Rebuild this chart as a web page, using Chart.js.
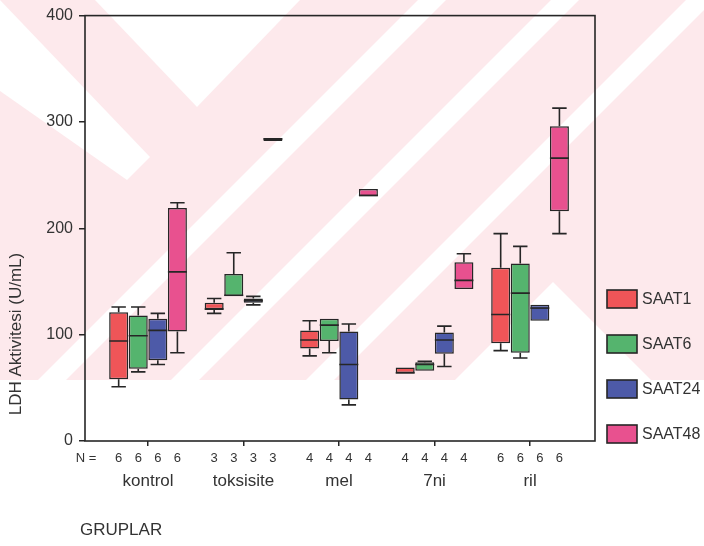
<!DOCTYPE html>
<html>
<head>
<meta charset="utf-8">
<script src="https://cdn.jsdelivr.net/npm/chart.js@4.4.0/dist/chart.umd.min.js"></script>
<style>
  html, body { margin: 0; padding: 0; background: #fff; }
  #wrap { position: relative; width: 704px; height: 546px; }
</style>
</head>
<body>
<div id="wrap"><canvas id="chart" width="704" height="546"></canvas></div>
<script>
'use strict';

const groups = ['kontrol', 'toksisite', 'mel', '7ni', 'ril'];
const seriesNames = ['SAAT1', 'SAAT6', 'SAAT24', 'SAAT48'];
const counts = [6, 3, 4, 4, 6];
const yTicks = [0, 100, 200, 300, 400];

// each box: [min, q1, median, q3, max]
const saat1 = [[51, 58, 94, 121, 126], [120, 124, 124, 130, 134], [80, 87, 95, 104, 113], [64, 64, 64, 69, 69], [85, 92, 119, 163, 195]];
const saat6 = [[65, 68, 99, 118, 126], [136, 136, 137, 157, 177], [83, 94, 109, 115, 115], [66, 66, 72, 74, 75], [78, 83, 139, 167, 183]];
const saat24 = [[72, 76, 104, 115, 120], [128, 130, 132, 134, 136], [34, 39, 72, 103, 110], [70, 82, 95, 102, 108], [113, 113, 125, 128, 128]];
const saat48 = [[83, 103, 159, 219, 224], [282, 282, 284, 285, 285], [230, 230, 231, 237, 237], [143, 143, 151, 168, 176], [195, 216, 266, 296, 313]];

const colors = ['#ef5558', '#55b46e', '#4d5aa8', '#e8518f'];
const ink = '#262626';
const textColor = '#333';
const font = "'Liberation Sans', Arial, sans-serif";

const makeSet = (name, stats, color) => ({
  label: name,
  stats: stats,
  data: stats.map((s, i) => ({ x: i, y: [s[1], s[3]] })),
  backgroundColor: color,
  borderColor: ink,
  borderWidth: 1.5,
  borderSkipped: false,
  categoryPercentage: 0.82,
  barPercentage: 0.97
});

// pale watermark behind the whole picture
const watermark = {
  id: 'watermark',
  beforeDraw(chart) {
    const ctx = chart.ctx;
    ctx.save();
    ctx.fillStyle = '#fff';
    ctx.fillRect(0, 0, chart.width, chart.height);
    ctx.fillStyle = '#fde9ec';
    ctx.fillRect(0, 0, chart.width, 380);
    ctx.fillStyle = '#fff';
    const poly = (pts) => {
      ctx.beginPath();
      pts.forEach((p, k) => k ? ctx.lineTo(p[0], p[1]) : ctx.moveTo(p[0], p[1]));
      ctx.closePath();
      ctx.fill();
    };
    [432, 565, 700].forEach(c => {
      poly([[c - 14, 0], [c + 14, 0], [c + 14 - 380, 380], [c - 14 - 380, 380]]);
    });
    poly([[95, 0], [197, 107], [300, 0]]);
    poly([[0, 0], [0, 91], [127, 180], [150, 157]]);
    poly([[553, 282], [455, 380], [651, 380]]);
    ctx.restore();
  }
};

const boxParts = {
  id: 'boxParts',
  afterDatasetsDraw(chart) {
    const ctx = chart.ctx;
    const y = chart.scales.y;
    ctx.save();
    ctx.strokeStyle = ink;
    ctx.lineWidth = 1.6;
    chart.data.datasets.forEach((ds, di) => {
      chart.getDatasetMeta(di).data.forEach((bar, i) => {
        const [lo, q1, med, q3, hi] = ds.stats[i];
        const half = bar.width / 2;
        const cap = bar.width * 0.38;
        const x = bar.x;
        ctx.beginPath();
        ctx.moveTo(x - half, y.getPixelForValue(med));
        ctx.lineTo(x + half, y.getPixelForValue(med));
        if (hi > q3) {
          ctx.moveTo(x, y.getPixelForValue(q3));
          ctx.lineTo(x, y.getPixelForValue(hi));
          ctx.moveTo(x - cap, y.getPixelForValue(hi));
          ctx.lineTo(x + cap, y.getPixelForValue(hi));
        }
        if (lo < q1) {
          ctx.moveTo(x, y.getPixelForValue(q1));
          ctx.lineTo(x, y.getPixelForValue(lo));
          ctx.moveTo(x - cap, y.getPixelForValue(lo));
          ctx.lineTo(x + cap, y.getPixelForValue(lo));
        }
        ctx.stroke();
      });
    });
    ctx.restore();
  }
};

const extras = {
  id: 'extras',
  afterDraw(chart) {
    const ctx = chart.ctx;
    const area = chart.chartArea;
    ctx.save();
    // frame
    ctx.strokeStyle = ink;
    ctx.lineWidth = 1.6;
    ctx.strokeRect(area.left, area.top, area.right - area.left, area.bottom - area.top);

    ctx.fillStyle = textColor;
    // N row
    ctx.font = '13px ' + font;
    ctx.textAlign = 'center';
    ctx.textBaseline = 'middle';
    ctx.fillText('N =', 86, 458);
    chart.data.datasets.forEach((ds, di) => {
      chart.getDatasetMeta(di).data.forEach((bar, i) => {
        ctx.fillText(String(counts[i]), bar.x, 458);
      });
    });

    // axis titles
    ctx.font = '17px ' + font;
    ctx.textAlign = 'left';
    ctx.fillText('GRUPLAR', 80, 530);
    ctx.textAlign = 'center';
    ctx.save();
    ctx.translate(16, 334);
    ctx.rotate(-Math.PI / 2);
    ctx.fillText('LDH Aktivitesi (U/mL)', 0, 0);
    ctx.restore();

    // legend
    const tops = [290, 335, 380, 425];
    chart.data.datasets.forEach((ds, di) => {
      ctx.fillStyle = ds.backgroundColor;
      ctx.fillRect(607, tops[di], 30, 18);
      ctx.strokeStyle = ink;
      ctx.lineWidth = 1.6;
      ctx.strokeRect(607, tops[di], 30, 18);
      ctx.fillStyle = textColor;
      ctx.font = '16px ' + font;
      ctx.textAlign = 'left';
      ctx.fillText(ds.label, 642, tops[di] + 10);
    });
    ctx.restore();
  }
};

new Chart(document.getElementById('chart'), {
  type: 'bar',
  data: {
    datasets: [
      makeSet(seriesNames[0], saat1, colors[0]),
      makeSet(seriesNames[1], saat6, colors[1]),
      makeSet(seriesNames[2], saat24, colors[2]),
      makeSet(seriesNames[3], saat48, colors[3])
    ]
  },
  options: {
    responsive: false,
    animation: false,
    layout: { padding: { top: 12, right: 109, left: 0, bottom: 0 } },
    plugins: { legend: { display: false }, tooltip: { enabled: false } },
    scales: {
      x: {
        type: 'linear',
        offset: false,
        min: -0.66,
        max: 4.68,
        afterBuildTicks: (axis) => { axis.ticks = groups.map((g, i) => ({ value: i })); },
        afterFit: (axis) => { axis.height = 105; },
        grid: { offset: false, drawOnChartArea: false, tickLength: 5, color: ink, lineWidth: 1.5 },
        border: { display: false },
        ticks: {
          padding: 25,
          color: textColor,
          font: { family: font, size: 17 },
          maxRotation: 0,
          callback: (v) => groups[v] || ''
        }
      },
      y: {
        min: 0,
        max: 400,
        afterBuildTicks: (axis) => { axis.ticks = yTicks.map(v => ({ value: v })); },
        afterFit: (axis) => { axis.width = 85; },
        grid: { drawOnChartArea: false, tickLength: 6, color: ink, lineWidth: 1.5 },
        border: { display: false },
        ticks: {
          padding: 6,
          color: textColor,
          font: { family: font, size: 16 }
        }
      }
    }
  },
  plugins: [watermark, boxParts, extras]
});
</script>
</body>
</html>
